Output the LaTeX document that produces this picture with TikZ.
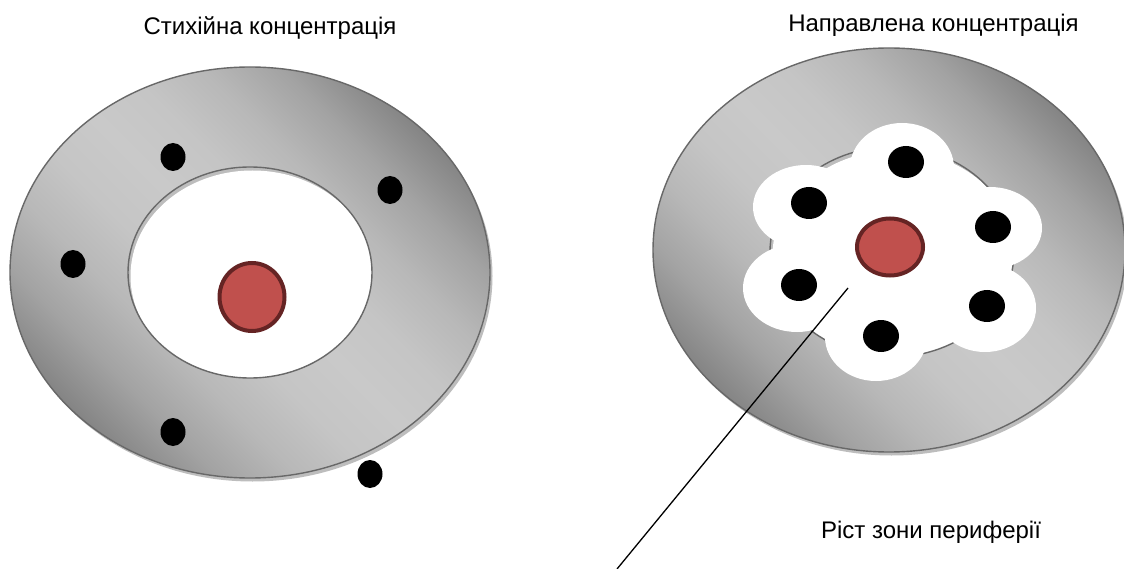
\documentclass[tikz,border=0pt]{standalone}
\usepackage{fontspec}
\setmainfont{Liberation Sans}
\usetikzlibrary{shapes.geometric}
\definecolor{ringdark}{HTML}{858585}
\definecolor{ringlight}{HTML}{C9C9C9}
\definecolor{ringedge}{HTML}{686868}
\definecolor{ringshadow}{HTML}{BDBDBD}
\definecolor{corefill}{HTML}{C0504D}
\definecolor{coreedge}{HTML}{652424}
\colorlet{ringA}{ringlight!94!ringdark}
\colorlet{ringB}{ringlight!75!ringdark}
\colorlet{ringC}{ringlight!44!ringdark}
\pgfdeclareverticalshading{ringshade}{100bp}{color(0bp)=(ringdark); color(25bp)=(ringdark); color(31.25bp)=(ringC); color(37.5bp)=(ringB); color(43.75bp)=(ringA); color(50bp)=(ringlight); color(56.25bp)=(ringA); color(62.5bp)=(ringB); color(68.75bp)=(ringC); color(75bp)=(ringdark); color(100bp)=(ringdark)}
\tikzset{
  ringfill/.style={shading=ringshade, shading angle=-45, draw=ringedge, line width=1.4pt},
  holeedge/.style={draw=ringedge, line width=1.4pt},
  dotL/.style={ellipse, fill=black, inner sep=0pt, minimum width=25pt, minimum height=28pt},
  dotR/.style={ellipse, fill=black, inner sep=0pt, minimum width=36pt, minimum height=32pt},
  core/.style={ellipse, fill=corefill, draw=coreedge, line width=4pt, inner sep=0pt},
  lbl/.style={font=\fontsize{24}{28}\selectfont, inner sep=0pt, anchor=base},
  pointer/.style={draw=black, line width=1.3pt},
}
\begin{document}
\begin{tikzpicture}[x=1pt,y=-1pt]
\useasboundingbox (0,0) rectangle (1124,569);
\fill[white] (0,0) rectangle (1124,569);

% ---------- left ring ----------
\fill[ringshadow] (252.5,276) ellipse [x radius=240pt, y radius=205.5pt];
\path[ringfill] (250,272.5) ellipse [x radius=240pt, y radius=205.5pt];
\begin{scope}
  \clip (250,272.5) ellipse [x radius=122pt, y radius=105.5pt];
  \fill[ringshadow] (120,160) rectangle (380,390);
  \fill[white] (252.5,276) ellipse [x radius=122pt, y radius=105.5pt];
\end{scope}
\draw[holeedge] (250,272.5) ellipse [x radius=122pt, y radius=105.5pt];

\node[core, minimum width=65pt, minimum height=68pt] (coreL) at (252,297) {};
\node[dotL] (dL1) at (173,157) {};
\node[dotL] (dL2) at (390,190) {};
\node[dotL] (dL3) at (73,264) {};
\node[dotL] (dL4) at (173,432) {};
\node[dotL] (dL5) at (370,474) {};

% ---------- right ring ----------
\fill[ringshadow] (891.5,253.5) ellipse [x radius=236pt, y radius=202pt];
\path[ringfill] (889,250) ellipse [x radius=236pt, y radius=202pt];
\begin{scope}
  \clip (892,252) ellipse [x radius=122pt, y radius=105pt];
  \fill[ringshadow] (760,140) rectangle (1020,365);
  \fill[white] (894.5,255.5) ellipse [x radius=122pt, y radius=105pt];
\end{scope}
\draw[holeedge] (892,252) ellipse [x radius=122pt, y radius=105pt];

% white petals
\fill[white] (902,168) ellipse [x radius=52pt, y radius=45pt];
\fill[white] (806,207) ellipse [x radius=53pt, y radius=42pt];
\fill[white] (990,228) ellipse [x radius=52pt, y radius=41pt];
\fill[white] (797,288) ellipse [x radius=54pt, y radius=44pt];
\fill[white] (985,308) ellipse [x radius=51pt, y radius=44pt];
\fill[white] (876,337) ellipse [x radius=51pt, y radius=44pt];
\fill[white] (892,252) ellipse [x radius=100pt, y radius=80pt];

\node[core, minimum width=66pt, minimum height=57pt] (coreR) at (890,247) {};
\node[dotR] (dR1) at (906,162) {};
\node[dotR] (dR2) at (809,203) {};
\node[dotR] (dR3) at (993,227) {};
\node[dotR] (dR4) at (799,285) {};
\node[dotR] (dR5) at (987,306) {};
\node[dotR] (dR6) at (881,336) {};

% pointer line
\coordinate (ptrA) at (848,288);
\coordinate (ptrB) at (617,569);
\draw[pointer] (ptrA) -- (ptrB);

% labels
\node[lbl] (tLeft) at (270,35) {Стихійна концентрація};
\node[lbl] (tRight) at (933.5,32) {Направлена концентрація};
\node[lbl] (tPeri) at (931,538) {Ріст зони периферії};
\end{tikzpicture}
\end{document}
